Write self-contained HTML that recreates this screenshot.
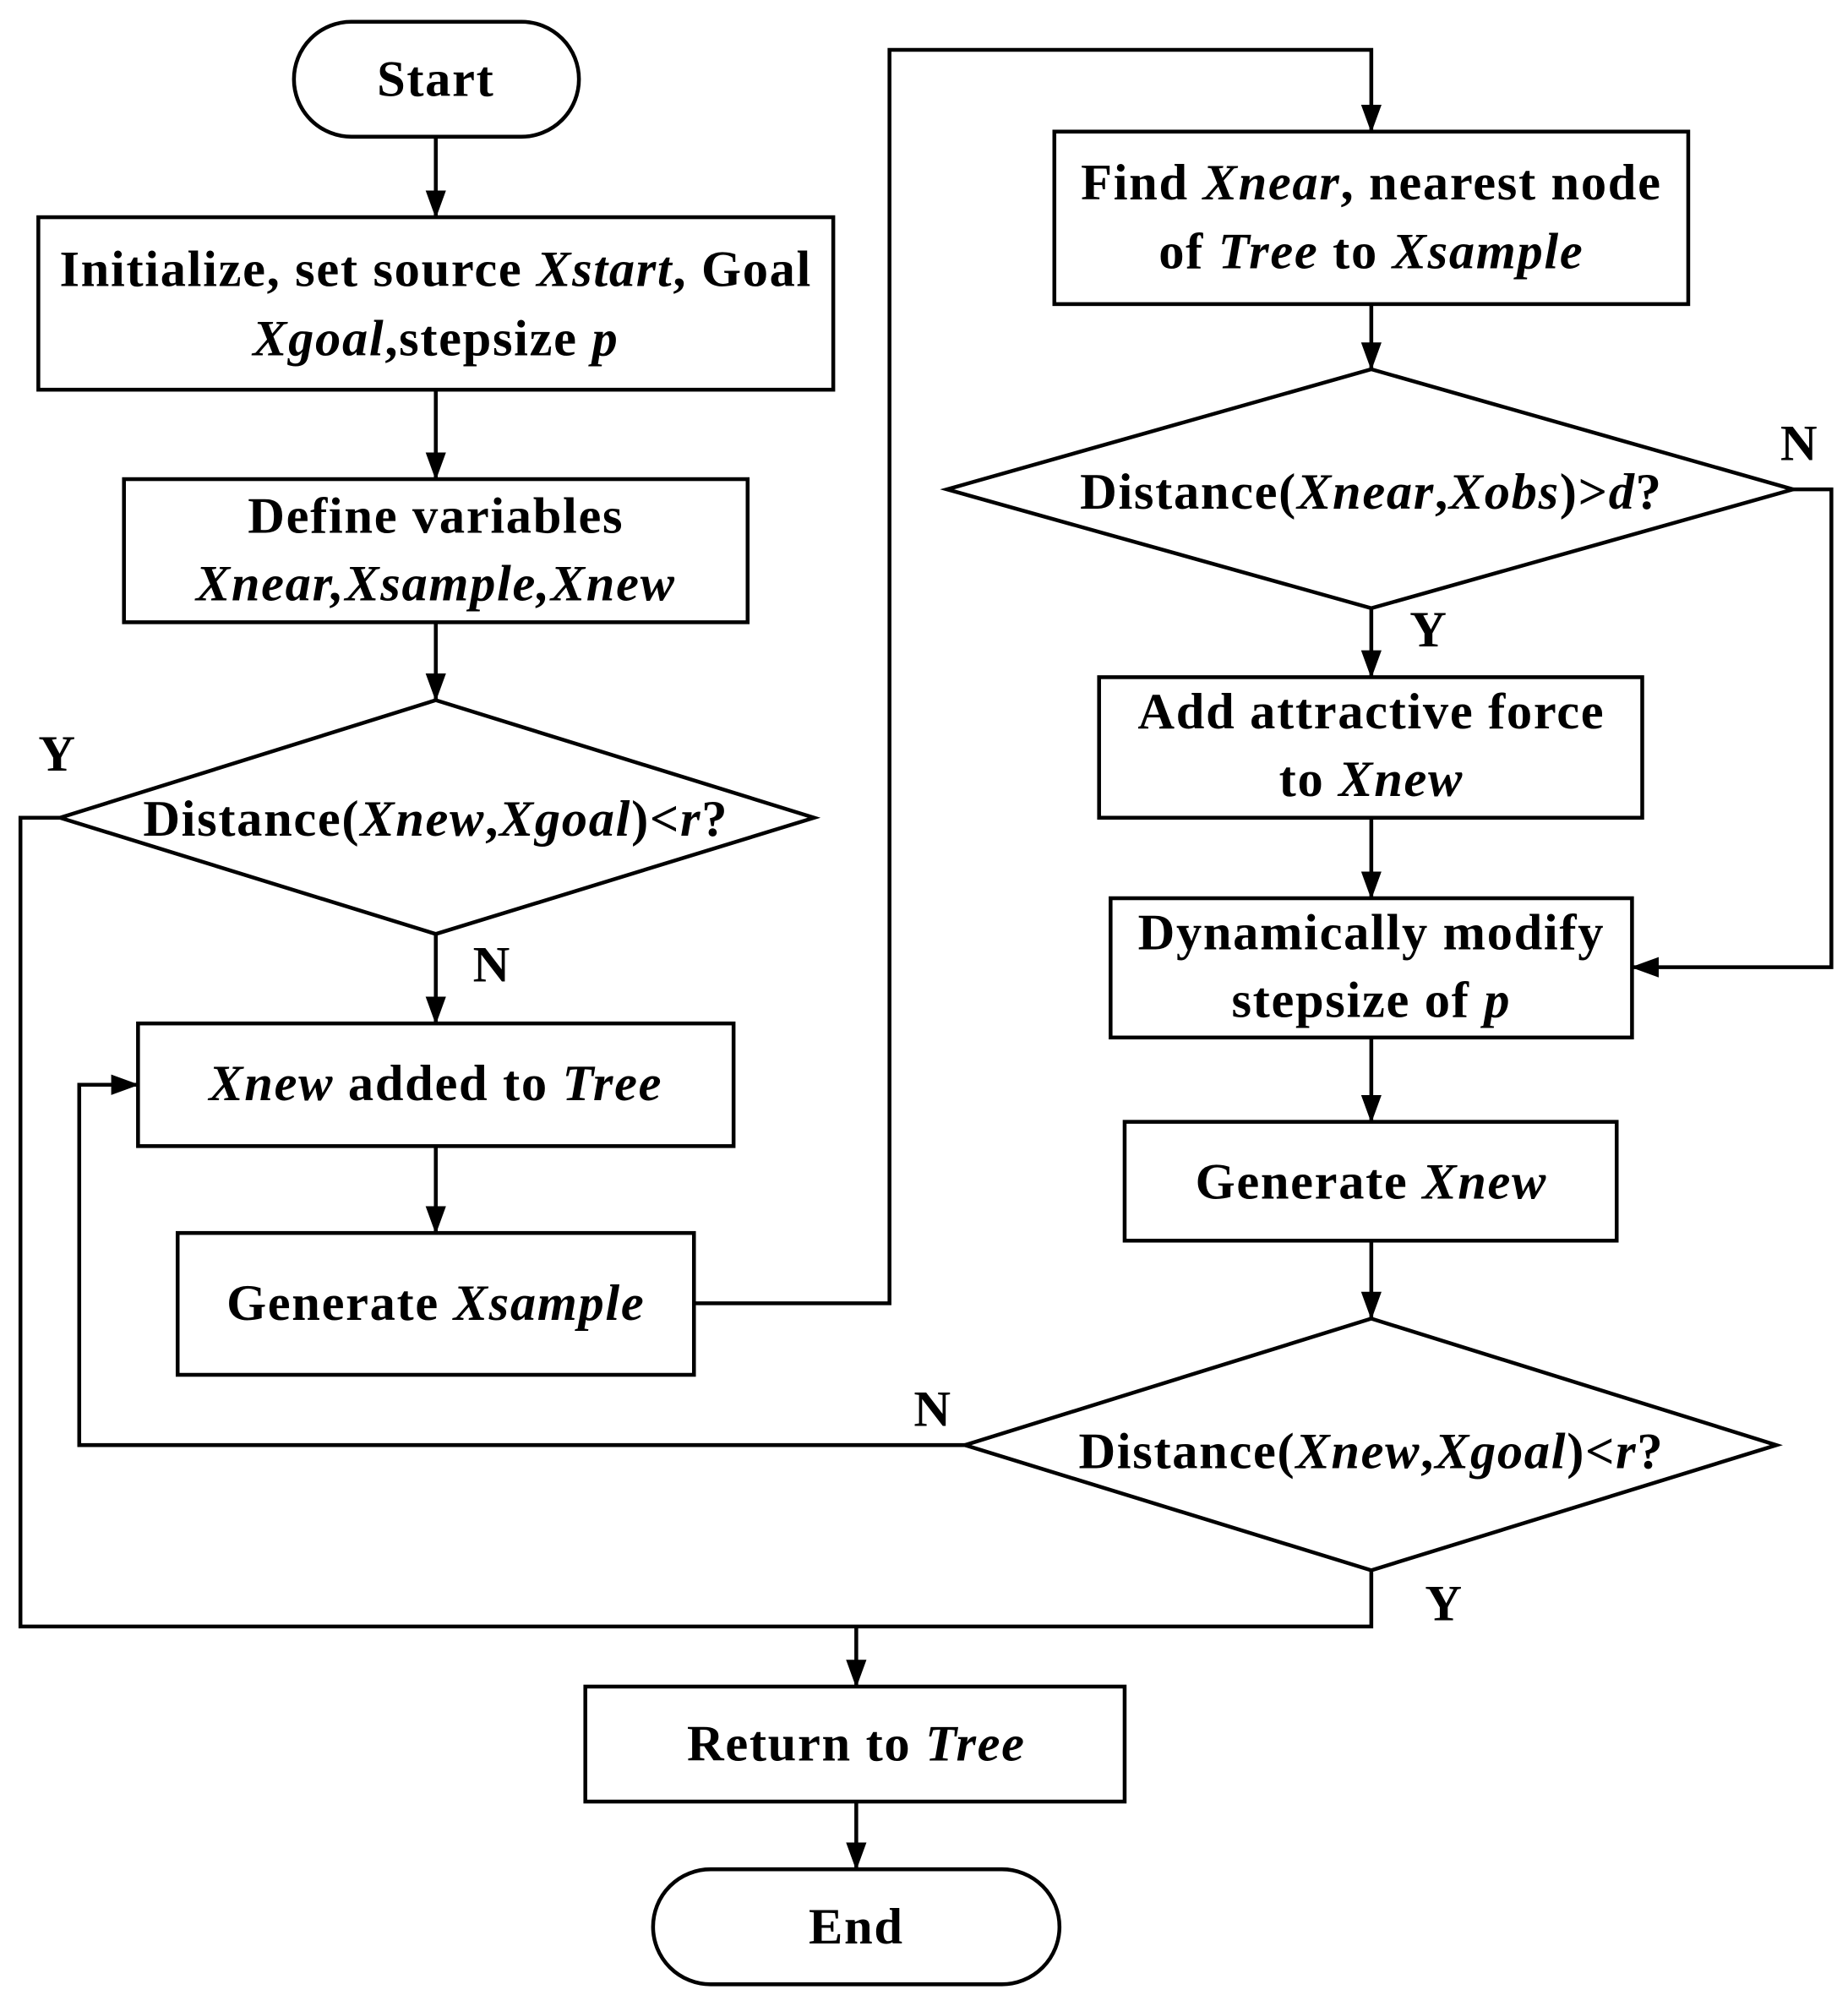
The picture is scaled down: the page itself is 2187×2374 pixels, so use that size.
<!DOCTYPE html>
<html><head><meta charset="utf-8"><style>
html,body{margin:0;padding:0;background:#fff}
svg{display:block}
text{font-family:"Liberation Serif",serif;font-weight:bold;font-size:40px;letter-spacing:1.1px;fill:#000}
.i{font-style:italic}
</style></head><body>
<svg width="2187" height="2374" viewBox="0 0 1446 1570" preserveAspectRatio="none" xmlns="http://www.w3.org/2000/svg">
<defs>
<marker id="b" markerWidth="22" markerHeight="22" refX="21" refY="11" orient="auto" markerUnits="userSpaceOnUse" viewBox="0 0 22 22"><path d="M0,3L22,11L0,19z" fill="#000"/></marker></defs>
<g fill="none" stroke="#000" stroke-width="3">
<rect x="230" y="17" width="223" height="90" rx="45"/>
<rect x="30" y="170" width="622" height="135"/>
<rect x="97" y="375" width="488" height="112"/>
<polygon points="341,548 637,640 341,731 47,640"/>
<rect x="108" y="801" width="466" height="96"/>
<rect x="139" y="965" width="404" height="111"/>
<rect x="825" y="103" width="496" height="135"/>
<polygon points="1073,289 1403,383 1073,476 741,383"/>
<rect x="860" y="530" width="425" height="110"/>
<rect x="869" y="703" width="408" height="109"/>
<rect x="880" y="878" width="385" height="93"/>
<polygon points="1073,1032 1390,1131 1073,1229 755,1131"/>
<rect x="458" y="1320" width="422" height="90"/>
<rect x="511" y="1463" width="318" height="90" rx="45"/>
<g marker-end="url(#b)">
<line x1="341" y1="107" x2="341" y2="170"/>
<line x1="341" y1="305" x2="341" y2="375"/>
<line x1="341" y1="487" x2="341" y2="548"/>
<line x1="341" y1="731" x2="341" y2="801"/>
<line x1="341" y1="897" x2="341" y2="965"/>
<polyline points="543,1020 696,1020 696,39 1073,39 1073,103"/>
<line x1="1073" y1="238" x2="1073" y2="289"/>
<line x1="1073" y1="476" x2="1073" y2="530"/>
<line x1="1073" y1="640" x2="1073" y2="703"/>
<line x1="1073" y1="812" x2="1073" y2="878"/>
<line x1="1073" y1="971" x2="1073" y2="1032"/>
<polyline points="1403,383 1433,383 1433,757 1277,757"/>
<polyline points="755,1131 62,1131 62,849 108,849"/>
<line x1="670" y1="1273" x2="670" y2="1320"/>
<line x1="670" y1="1410" x2="670" y2="1463"/>
</g>
<polyline points="47,640 16,640 16,1273 1073,1273 1073,1229"/>
</g>
<g text-anchor="middle">
<text x="341" y="75">Start</text>
<text x="341" y="224">Initialize, set source <tspan class="i">Xstart</tspan>, Goal</text>
<text x="341" y="278"><tspan class="i">Xgoal</tspan>,stepsize <tspan class="i">p</tspan></text>
<text x="341" y="417">Define variables</text>
<text x="341" y="470" class="i">Xnear,Xsample,Xnew</text>
<text x="341" y="654">Distance(<tspan class="i">Xnew</tspan>,<tspan class="i">Xgoal</tspan>)&lt;<tspan class="i">r</tspan>?</text>
<text x="341" y="861"><tspan class="i">Xnew</tspan> added to <tspan class="i">Tree</tspan></text>
<text x="341" y="1033">Generate <tspan class="i">Xsample</tspan></text>
<text x="1073" y="156">Find <tspan class="i">Xnear</tspan>, nearest node</text>
<text x="1073" y="210">of <tspan class="i">Tree</tspan> to <tspan class="i">Xsample</tspan></text>
<text x="1073" y="398">Distance(<tspan class="i">Xnear</tspan>,<tspan class="i">Xobs</tspan>)&gt;<tspan class="i">d</tspan>?</text>
<text x="1073" y="570">Add attractive force</text>
<text x="1073" y="623">to <tspan class="i">Xnew</tspan></text>
<text x="1073" y="743">Dynamically modify</text>
<text x="1073" y="796">stepsize of <tspan class="i">p</tspan></text>
<text x="1073" y="938">Generate <tspan class="i">Xnew</tspan></text>
<text x="1073" y="1149">Distance(<tspan class="i">Xnew</tspan>,<tspan class="i">Xgoal</tspan>)&lt;<tspan class="i">r</tspan>?</text>
<text x="670" y="1378">Return to <tspan class="i">Tree</tspan></text>
<text x="670" y="1521">End</text>
<text x="45" y="603">Y</text>
<text x="385" y="768">N</text>
<text x="1408" y="360">N</text>
<text x="1118" y="506">Y</text>
<text x="730" y="1116">N</text>
<text x="1130" y="1268">Y</text>
</g>
</svg>
</body></html>
